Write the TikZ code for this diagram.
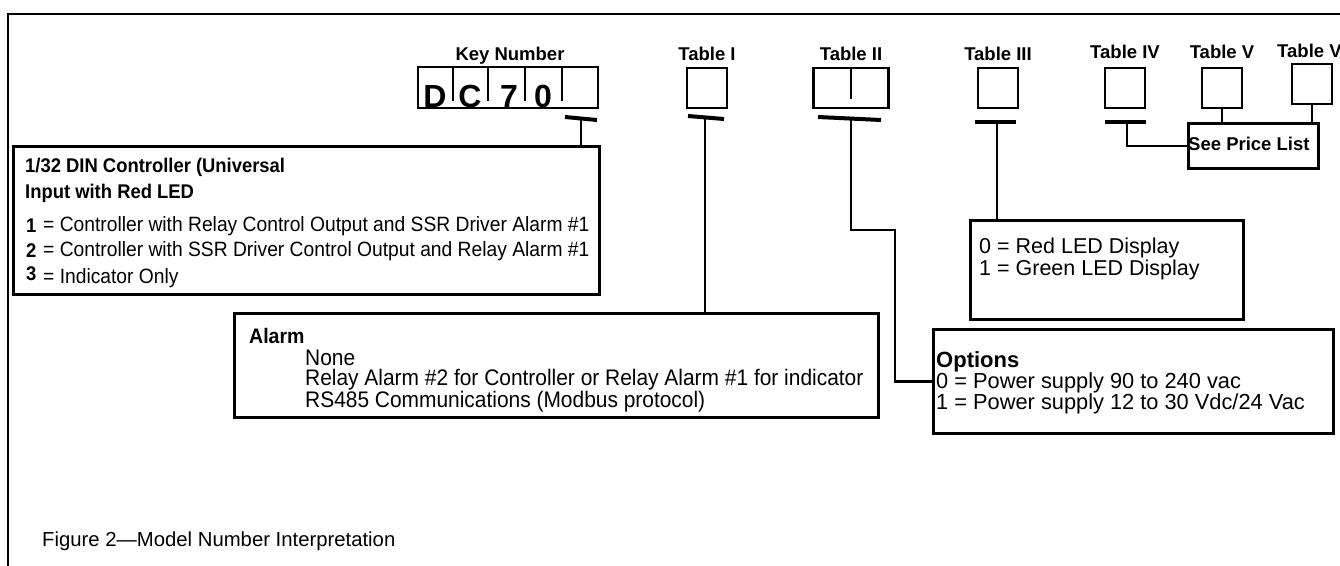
\documentclass[tikz,border=0pt]{standalone}
\usepackage{fontspec}
\setmainfont{Liberation Sans}
\newfontfamily\narrowsf[FakeStretch=0.93]{Liberation Sans}
\usetikzlibrary{positioning,calc}
\tikzset{>=latex}
\tikzset{
  panel/.style={draw, line width=2.6pt, inner sep=0pt, anchor=north west},
  cell/.style={draw, line width=2.6pt, inner sep=0pt, minimum width=40pt, minimum height=40pt},
  tag/.style={inner sep=0pt, font=\bfseries\fontsize{18.5}{20}\selectfont},
  head/.style={inner sep=0pt, anchor=west, font=\bfseries\fontsize{21.5}{24}\selectfont},
  txt/.style={inner sep=0pt, anchor=west, font=\fontsize{21.5}{24}\selectfont},
  nhead/.style={inner sep=0pt, anchor=west, font=\narrowsf\bfseries\fontsize{19.8}{22}\selectfont},
  ntxt/.style={inner sep=0pt, anchor=west, font=\narrowsf\fontsize{20.7}{22}\selectfont},
  digit/.style={inner sep=0pt, anchor=base, font=\bfseries\fontsize{32}{34}\selectfont},
  bar/.style={line width=4pt},
  lead/.style={line width=2.6pt},
}

\begin{document}
\begin{tikzpicture}[x=1pt, y=-1pt]
    \useasboundingbox (0,0) rectangle (1340,565);
    \clip (0,0) rectangle (1340,565);
    \draw[lead] (8,570) -- (8,14) -- (1345,14); % page frame

    % key number cells
    \node[tag] (keylbl) at (510,56) {Key Number};
    \node[cell, minimum width=180pt, minimum height=41pt] (key) at (508,87.5) {};
    \foreach \x in {453,488,525,562}
        \draw[lead] (\x,67) -- (\x,101);
    \foreach \d/\x [count=\i] in {D/435,C/470,7/509,0/543}
        \node[digit] (dig\i) at (\x,107) {\d};

    % table cells
    \foreach \nm/\lbl/\x/\y/\gap in {tabI/Table I/707/88/6, tabIII/Table III/998/88/6, tabIV/Table IV/1125/88/8, tabV/Table V/1222/88/8, tabVI/Table VI/1312/84/5} {
        \node[cell] (\nm) at (\x,\y) {};
        \node[tag, above=\gap pt of \nm] (\nm lbl) {\lbl};
    }
    \node[cell, minimum width=75pt] (tabII) at (851,88) {};
    \node[tag, above=6pt of tabII] (tabIIlbl) {Table II};
    \draw[lead] (tabII.north) -- ++(0,32);

    % description boxes
    \node[panel, minimum width=586pt, minimum height=148pt] (din) at (12,145) {};
    \node[panel, minimum width=644pt, minimum height=104pt] (alarm) at (233,312) {};
    \node[panel, minimum width=273pt, minimum height=99pt] (led) at (969,219) {};
    \node[panel, minimum width=400pt, minimum height=104pt] (opts) at (932,328) {};
    \node[panel, minimum width=130pt, minimum height=45pt] (price) at (1187,122) {};

    % controller type
    \node[nhead] (din1) at (25,167) {1/32 DIN Controller (Universal};
    \node[nhead] (din2) at (25,193) {Input with Red LED};
    \foreach \k/\t/\y/\dy in {1/Controller with Relay Control Output and SSR Driver Alarm \#1/226/0, 2/Controller with SSR Driver Control Output and Relay Alarm \#1/251/0, 3/Indicator Only/276/2} {
        \node[nhead] (num\k) at (26,\y-\dy) {\k};
        \node[ntxt] (typ\k) at (43,\y+\dy) {= \t};
    }

    % alarm
    \node[nhead, font=\narrowsf\bfseries\fontsize{21}{24}\selectfont] (alarmhd) at (249,336) {Alarm};
    \foreach \t/\y [count=\i] in {None/358, Relay Alarm \#2 for Controller or Relay Alarm \#1 for indicator/380, RS485 Communications (Modbus protocol)/402}
        \node[ntxt, font=\narrowsf\fontsize{22.5}{24}\selectfont] (alm\i) at (305,\y) {\t};

    % display
    \node[txt] (led0) at (979,248) {0 = Red LED Display};
    \node[txt] (led1) at (979,270) {1 = Green LED Display};

    % options
    \node[head, font=\bfseries\fontsize{22}{24}\selectfont] (optshd) at (936,362) {Options};
    \node[txt, font=\fontsize{21.8}{24}\selectfont] (opt0) at (936,383) {0 = Power supply 90 to 240 vac};
    \node[txt, font=\fontsize{21.8}{24}\selectfont] (opt1) at (936,404) {1 = Power supply 12 to 30 Vdc/24 Vac};

    \node[tag, anchor=west] (pricetx) at (1188,144) {See Price List};

    % leaders
    \draw[bar] (565,117) -- (597,120);
    \coordinate (kT) at (581,118.5);
    \draw[lead] (kT) -- (kT |- din.north);

    \draw[bar] (688,116) -- (724,119);
    \coordinate (t1) at (705,117.5);
    \draw[lead] (t1) -- (t1 |- alarm.north);

    \draw[bar] (818,117) -- (881,120);
    \coordinate (t2) at (851,118.5);
    \coordinate (t2a) at (895,230);
    \draw[lead] (t2) |- (t2a) |- (opts.west);

    \draw[bar] (975,122) -- (1016,122);
    \coordinate (t3) at (997,122);
    \draw[lead] (t3) -- (t3 |- led.north);

    \draw[bar] (1105,122) -- (1146,122);
    \coordinate (t4) at (1127,122);
    \draw[lead] (t4) |- (price.west);

    \draw[lead] (tabV.south) -- (tabV.south |- price.north);
    \draw[lead] (tabVI.south) -- (tabVI.south |- price.north);

    \node[txt, font=\fontsize{20.3}{22}\selectfont] (caption) at (42,541) {Figure 2---Model Number Interpretation};
\end{tikzpicture}
\end{document}
